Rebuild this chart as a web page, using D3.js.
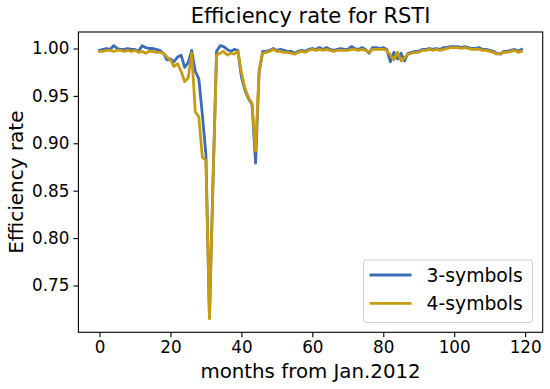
<!DOCTYPE html>
<html><head><meta charset="utf-8">
<script src="https://cdn.jsdelivr.net/npm/d3@7"></script>
<style>body{margin:0;background:#fff}svg{display:block}text{font-family:"DejaVu Sans",sans-serif}</style>
</head><body>
<svg id="c" width="550" height="389"></svg>
<script>
const title = "Efficiency rate for RSTI";
const xLabel = "months from Jan.2012";
const yLabel = "Efficiency rate";
const seriesNames = ["3-symbols", "4-symbols"];
const xTicks = [0, 20, 40, 60, 80, 100, 120];
const yTicks = [0.75, 0.80, 0.85, 0.90, 0.95, 1.00];

const sym3 = [
0.998,0.999,1.000,0.999,1.003,1.000,0.999,0.999,1.000,0.999,
0.999,0.997,1.003,1.001,1.000,1.000,0.999,0.998,0.995,0.988,
0.989,0.986,0.991,0.993,0.980,0.985,0.998,0.976,0.968,0.930,
0.888,0.716,0.860,0.997,1.003,1.002,0.999,0.997,0.999,0.998,
0.970,0.956,0.947,0.941,0.879,0.975,0.997,0.997,0.998,1.000,
0.998,0.999,0.998,0.997,0.997,0.995,0.997,0.998,0.997,0.999,
1.000,0.999,1.001,0.999,1.001,0.999,0.998,0.999,1.000,0.999,
0.999,1.002,1.000,0.999,1.001,0.999,0.995,1.001,1.001,1.000,
1.001,0.999,0.986,0.996,0.989,0.995,0.987,0.995,0.996,0.997,
0.997,0.999,0.999,1.000,0.999,1.000,0.999,1.001,1.001,1.002,
1.002,1.002,1.001,1.002,1.001,1.000,1.000,1.001,0.999,0.999,
0.998,0.997,0.995,0.994,0.997,0.997,0.998,0.999,0.997,0.999];

const sym4 = [
0.997,0.997,0.998,0.998,0.997,0.998,0.998,0.997,0.998,0.997,
0.998,0.996,0.997,0.995,0.997,0.997,0.996,0.996,0.995,0.991,
0.988,0.981,0.984,0.976,0.965,0.969,0.995,0.933,0.928,0.885,
0.882,0.715,0.860,0.993,0.995,0.997,0.993,0.995,0.994,0.997,
0.975,0.958,0.948,0.942,0.892,0.978,0.995,0.996,0.997,0.999,
0.997,0.997,0.996,0.996,0.995,0.994,0.996,0.997,0.996,0.998,
0.999,0.998,0.999,0.998,0.999,0.998,0.997,0.998,0.998,0.998,
0.998,0.999,0.999,0.998,0.999,0.998,0.996,0.999,0.999,0.999,
0.999,0.998,0.993,0.988,0.996,0.987,0.990,0.994,0.995,0.996,
0.996,0.998,0.998,0.999,0.998,0.999,0.998,0.999,1.000,1.001,
1.001,1.001,1.000,1.001,1.000,0.999,0.999,0.999,0.998,0.998,
0.997,0.996,0.994,0.995,0.996,0.996,0.997,0.998,0.996,0.997];

const colors = ["#3b6cb4", "#c79c10"];

const svg = d3.select("#c");
const L = 78.4, R = 542.7, T = 32, B = 332.3;
const x = d3.scaleLinear().domain([-5.95, 124.95]).range([L, R]);
const y = d3.scaleLinear().domain([0.7006, 1.0174]).range([B, T]);

const series = [sym3, sym4];
const line = d3.line().x((d, i) => x(i)).y(d => y(d));
series.forEach((s, k) => {
  svg.append("path").datum(s).attr("d", line)
    .attr("fill", "none").attr("stroke", colors[k])
    .attr("stroke-width", 2.8).attr("stroke-linejoin", "round").attr("stroke-linecap", "square");
});

// frame
svg.append("rect").attr("x", L).attr("y", T).attr("width", R - L).attr("height", B - T)
  .attr("fill", "none").attr("stroke", "#000").attr("stroke-width", 1.1);

const xa = svg.append("g").attr("transform", `translate(0,${B})`)
  .call(d3.axisBottom(x).tickValues(xTicks).tickFormat(d3.format("d")).tickSize(5).tickPadding(4));
const ya = svg.append("g").attr("transform", `translate(${L},0)`)
  .call(d3.axisLeft(y).tickValues(yTicks).tickFormat(d3.format(".2f")).tickSize(5).tickPadding(4));
[xa, ya].forEach(a => {
  a.select(".domain").remove();
  a.selectAll("line").attr("stroke", "#000").attr("stroke-width", 1.1);
  a.selectAll("text").attr("font-size", 16.8).attr("fill", "#000").style("font-family", "DejaVu Sans");
});

svg.append("text").attr("x", (L + R) / 2).attr("y", 23).attr("text-anchor", "middle")
  .attr("font-size", 21).text(title);
svg.append("text").attr("x", (L + R) / 2).attr("y", 378).attr("text-anchor", "middle")
  .attr("font-size", 19.8).text(xLabel);
svg.append("text").attr("transform", `translate(23,${(T + B) / 2}) rotate(-90)`)
  .attr("text-anchor", "middle").attr("font-size", 20).text(yLabel);

// legend
const lg = svg.append("g");
lg.append("rect").attr("x", 363.5).attr("y", 260).attr("width", 169).attr("height", 62.5)
  .attr("rx", 3).attr("fill", "#fff").attr("fill-opacity", 0.8).attr("stroke", "#ccc");
seriesNames.forEach((n, k) => {
  const yy = 275 + k * 28.3;
  lg.append("line").attr("x1", 369.5).attr("x2", 411.5).attr("y1", yy).attr("y2", yy)
    .attr("stroke", colors[k]).attr("stroke-width", 2.8);
  lg.append("text").attr("x", 426.5).attr("y", yy).attr("dy", "0.35em")
    .attr("font-size", 18.8).text(n);
});
</script>
</body></html>
